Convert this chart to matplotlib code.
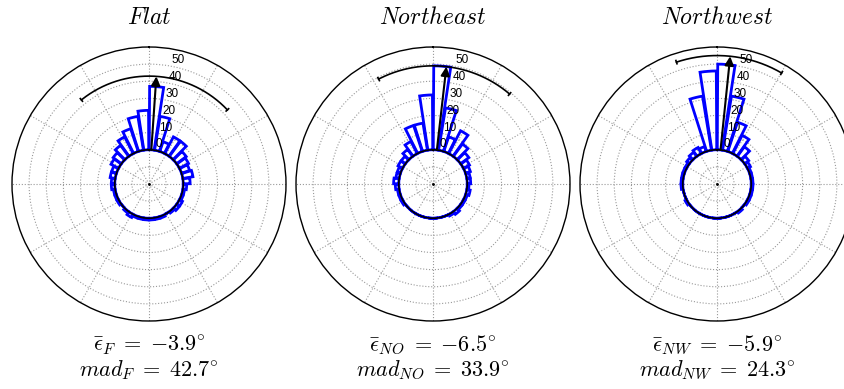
import numpy as np
import matplotlib.pyplot as plt
from matplotlib import rcParams

rcParams['mathtext.fontset'] = 'cm'
rcParams['font.family'] = ['Liberation Sans', 'DejaVu Sans']

# Panel info
titles = ['Flat', 'Northeast', 'Northwest']
subscripts = ['F', 'NO', 'NW']
mean_dirs = [-3.9, -6.5, -5.9]     # degrees, positive = counter-clockwise from north
mads = [42.7, 33.9, 24.3]
arc_levels = [43, 49, 55]           # count level of the mean arrow / mad arc

# Histogram counts in 9 degree bins.
# *_right: bins clockwise from north (centres 4.5, 13.5, ..., 175.5 deg)
# *_left:  bins counter-clockwise from north (same centres)
flat_right = [37, 20, 6, 11, 11, 7, 6, 5, 6, 4, 2, 1, 1, 2, 2, 1, 0, 1, 1, 1]
flat_left = [23, 20, 14, 11, 8, 6, 5, 3, 3, 2, 2, 1, 1, 1, 0, 1, 2, 1, 1, 1]
ne_right = [49, 25, 9, 15, 9, 6, 4, 3, 2, 2, 1, 2, 1, 1, 1, 2, 1, 0, 0, 0]
ne_left = [32, 16, 16, 8, 5, 3, 3, 2, 2, 3, 2, 1, 1, 1, 0, 0, 0, 0, 0, 0]
nw_right = [50, 32, 18, 12, 7, 3, 2, 1, 1, 1, 1, 1, 1, 1, 0, 1, 0, 0, 0, 0]
nw_left = [46, 32, 3, 4, 3, 2, 1, 1, 1, 1, 1, 0, 0, 1, 0, 0, 0, 0, 0, 0]

bin_width = 9.0
ring_labels = [0, 10, 20, 30, 40, 50]
offset = 20   # radius of the zero circle
r_max = 80

counts = [(flat_right, flat_left), (ne_right, ne_left), (nw_right, nw_left)]
centres_x = [149, 433, 717]   # pixel centres of the polar panels
W, H = 844, 389
radius_px = 137

fig = plt.figure(figsize=(W / 100, H / 100), dpi=100)

for i in range(3):
    cx = centres_x[i]
    ax = fig.add_axes([(cx - radius_px) / W, (H - 184 - radius_px) / H,
                       2 * radius_px / W, 2 * radius_px / H], projection='polar')
    ax.set_theta_zero_location('N')
    ax.set_theta_direction(1)
    ax.set_ylim(0, r_max)
    ax.set_rticks(np.arange(10, r_max, 10))
    ax.set_yticklabels([])
    ax.set_thetagrids(np.arange(0, 360, 30), labels=[])
    ax.grid(True, color='0.6', linestyle=':', linewidth=0.8)
    ax.spines['polar'].set_linewidth(1.0)

    right, left = counts[i]
    centres = bin_width / 2 + bin_width * np.arange(len(right))
    theta = np.deg2rad(np.concatenate([-centres, centres]))
    vals = np.array(right + left)
    ax.bar(theta, vals, width=np.deg2rad(bin_width) * 0.92, bottom=offset,
           fill=False, edgecolor='blue', linewidth=2.0, zorder=3)

    # zero circle
    tc = np.linspace(0, 2 * np.pi, 400)
    ax.plot(tc, np.full_like(tc, offset), color='black', lw=1.2, zorder=4)
    ax.plot([0], [0], 'k.', ms=2)

    # mean arrow and mad arc
    th_m = np.deg2rad(mean_dirs[i])
    r_arc = offset + arc_levels[i]
    ax.annotate('', xy=(th_m, r_arc), xytext=(th_m, offset),
                arrowprops=dict(arrowstyle='-|>', color='black', lw=1.5,
                                mutation_scale=13, shrinkA=0, shrinkB=0),
                zorder=5)
    ta = np.deg2rad(np.linspace(mean_dirs[i] - mads[i], mean_dirs[i] + mads[i], 200))
    ax.plot(ta, np.full_like(ta, r_arc), color='black', lw=1.2, zorder=5)
    for e in [ta[0], ta[-1]]:
        ax.plot([e, e], [r_arc - 1.0, r_arc + 1.0], color='black', lw=1.2, zorder=5)

    for v in ring_labels:
        ax.text(np.deg2rad(-11), offset + v, str(v), ha='left', va='bottom',
                fontsize=8.5, zorder=6)

    fig.text(cx / W, 1 - 18 / H, r'$%s$' % titles[i], ha='center', va='center',
             fontsize=17)
    fig.text(cx / W, 1 - 345 / H,
             r'$\bar{\epsilon}_{%s} \;=\; {%.1f}^{\circ}$' % (subscripts[i], mean_dirs[i]),
             ha='center', va='center', fontsize=16)
    fig.text(cx / W, 1 - 370 / H,
             r'$mad_{%s} \;=\; %.1f^{\circ}$' % (subscripts[i], mads[i]),
             ha='center', va='center', fontsize=16)

fig.savefig('out.png', dpi=100)
